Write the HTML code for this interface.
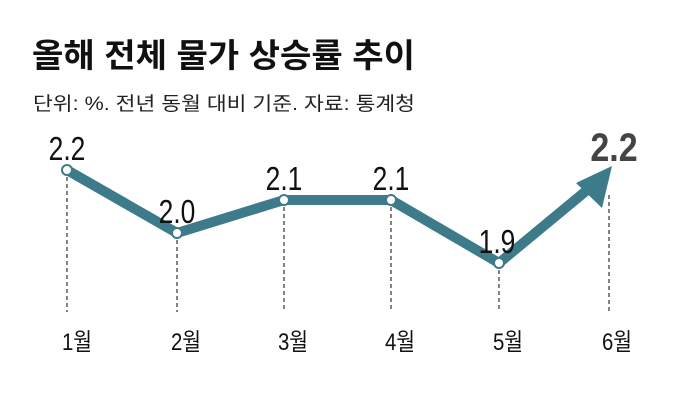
<!DOCTYPE html>
<html><head><meta charset="utf-8"><style>
body{margin:0;width:692px;height:401px;background:#fff;overflow:hidden;font-family:"Liberation Sans","Noto Sans CJK KR",sans-serif}
</style></head><body>
<svg width="692" height="401" xmlns="http://www.w3.org/2000/svg" font-family="Liberation Sans, Noto Sans CJK KR, sans-serif">
<text x="32" y="67" font-size="33" font-weight="bold" fill="#111" textLength="383" lengthAdjust="spacingAndGlyphs">올해 전체 물가 상승률 추이</text>
<text x="33" y="110" font-size="19" fill="#222" textLength="382" lengthAdjust="spacingAndGlyphs">단위: %. 전년 동월 대비 기준. 자료: 통계청</text>
<g stroke="#333" stroke-width="1.2" stroke-dasharray="4,3">
<line x1="67" y1="170" x2="67" y2="312"/>
<line x1="177" y1="233" x2="177" y2="312"/>
<line x1="284" y1="200" x2="284" y2="312"/>
<line x1="391" y1="200" x2="391" y2="312"/>
<line x1="499" y1="263" x2="499" y2="312"/>
<line x1="609" y1="195" x2="609" y2="312"/>
</g>
<polyline points="67,170 177,233 284,200 391,200 499,263 592,186" fill="none" stroke="#3d7a8a" stroke-width="10" stroke-linejoin="round"/>
<polygon points="612,166 602,208 576,183" fill="#3d7a8a"/>
<g fill="#fff" stroke="#3d7a8a" stroke-width="2">
<circle cx="67" cy="170" r="5"/><circle cx="177" cy="233" r="5"/><circle cx="284" cy="200" r="5"/><circle cx="391" cy="200" r="5"/><circle cx="499" cy="263" r="5"/>
</g>
<g font-size="33" fill="#111" text-anchor="middle">
<text transform="translate(67,160) scale(0.8,1)">2.2</text>
<text transform="translate(177,223) scale(0.8,1)">2.0</text>
<text transform="translate(284,190) scale(0.8,1)">2.1</text>
<text transform="translate(391,190) scale(0.8,1)">2.1</text>
<text transform="translate(497,253) scale(0.8,1)">1.9</text>
</g>
<text transform="translate(614,161) scale(0.85,1)" font-size="40" font-weight="bold" fill="#444" text-anchor="middle">2.2</text>
<g font-size="24" fill="#111" text-anchor="middle">
<text transform="translate(77,350) scale(0.85,1)">1월</text>
<text transform="translate(186,350) scale(0.85,1)">2월</text>
<text transform="translate(293,350) scale(0.85,1)">3월</text>
<text transform="translate(400,350) scale(0.85,1)">4월</text>
<text transform="translate(508,350) scale(0.85,1)">5월</text>
<text transform="translate(617,350) scale(0.85,1)">6월</text>
</g>
</svg>
</body></html>
